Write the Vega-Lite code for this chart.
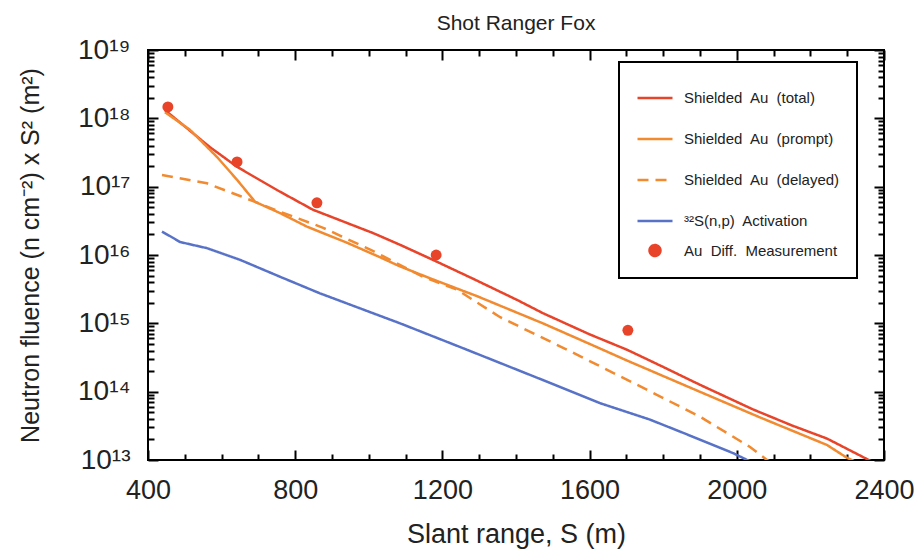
{
  "$schema": "https://vega.github.io/schema/vega-lite/v6.json",
  "width": 736,
  "height": 410,
  "autosize": {"type": "none"},
  "padding": {"left": 148, "top": 50, "right": 33, "bottom": 90},
  "background": "white",
  "title": {"text": "Shot Ranger Fox", "font": "Liberation Sans", "fontSize": 21, "fontWeight": "normal", "color": "#222", "anchor": "middle", "offset": 2},
  "config": {
    "font": "Liberation Sans",
    "view": {"stroke": "black", "strokeWidth": 2},
    "legend": {"strokeWidth": 2},
    "axis": {"domain": false, "grid": false, "tickColor": "black", "tickWidth": 2, "labelColor": "#222", "titleColor": "#222", "labelFont": "Liberation Sans", "titleFont": "Liberation Sans", "titleFontWeight": "normal", "labelOverlap": false, "labelFlush": false}
  },
  "datasets": {
    "curves": [
      {"series": "Shielded Au (total)", "s": 446, "f": 1.32e18},
      {"series": "Shielded Au (total)", "s": 568, "f": 3.8e17},
      {"series": "Shielded Au (total)", "s": 642, "f": 1.95e17},
      {"series": "Shielded Au (total)", "s": 751, "f": 8.9e16},
      {"series": "Shielded Au (total)", "s": 848, "f": 4.6e16},
      {"series": "Shielded Au (total)", "s": 1011, "f": 2.1e16},
      {"series": "Shielded Au (total)", "s": 1085, "f": 1.41e16},
      {"series": "Shielded Au (total)", "s": 1174, "f": 8.5e15},
      {"series": "Shielded Au (total)", "s": 1283, "f": 4.5e15},
      {"series": "Shielded Au (total)", "s": 1403, "f": 2.2e15},
      {"series": "Shielded Au (total)", "s": 1473, "f": 1.41e15},
      {"series": "Shielded Au (total)", "s": 1600, "f": 6.9e14},
      {"series": "Shielded Au (total)", "s": 1702, "f": 4.1e14},
      {"series": "Shielded Au (total)", "s": 1800, "f": 2.3e14},
      {"series": "Shielded Au (total)", "s": 1900, "f": 1.26e14},
      {"series": "Shielded Au (total)", "s": 2044, "f": 5.5e13},
      {"series": "Shielded Au (total)", "s": 2150, "f": 3.2e13},
      {"series": "Shielded Au (total)", "s": 2245, "f": 2.06e13},
      {"series": "Shielded Au (total)", "s": 2348, "f": 1.07e13},
      {"series": "Shielded Au (total)", "s": 2365, "f": 9.6e12},
      {"series": "Shielded Au (prompt)", "s": 446, "f": 1.23e18},
      {"series": "Shielded Au (prompt)", "s": 514, "f": 6.8e17},
      {"series": "Shielded Au (prompt)", "s": 588, "f": 2.7e17},
      {"series": "Shielded Au (prompt)", "s": 642, "f": 1.26e17},
      {"series": "Shielded Au (prompt)", "s": 691, "f": 6.0e16},
      {"series": "Shielded Au (prompt)", "s": 759, "f": 4.1e16},
      {"series": "Shielded Au (prompt)", "s": 832, "f": 2.6e16},
      {"series": "Shielded Au (prompt)", "s": 941, "f": 1.51e16},
      {"series": "Shielded Au (prompt)", "s": 1030, "f": 9.3e15},
      {"series": "Shielded Au (prompt)", "s": 1085, "f": 6.8e15},
      {"series": "Shielded Au (prompt)", "s": 1174, "f": 4.4e15},
      {"series": "Shielded Au (prompt)", "s": 1294, "f": 2.5e15},
      {"series": "Shielded Au (prompt)", "s": 1473, "f": 1.0e15},
      {"series": "Shielded Au (prompt)", "s": 1600, "f": 5.0e14},
      {"series": "Shielded Au (prompt)", "s": 1702, "f": 2.85e14},
      {"series": "Shielded Au (prompt)", "s": 1881, "f": 1.1e14},
      {"series": "Shielded Au (prompt)", "s": 2063, "f": 4.2e13},
      {"series": "Shielded Au (prompt)", "s": 2245, "f": 1.66e13},
      {"series": "Shielded Au (prompt)", "s": 2299, "f": 1.08e13},
      {"series": "Shielded Au (prompt)", "s": 2320, "f": 9.6e12},
      {"series": "Shielded Au (delayed)", "s": 438, "f": 1.48e17},
      {"series": "Shielded Au (delayed)", "s": 560, "f": 1.12e17},
      {"series": "Shielded Au (delayed)", "s": 650, "f": 7.3e16},
      {"series": "Shielded Au (delayed)", "s": 759, "f": 4.3e16},
      {"series": "Shielded Au (delayed)", "s": 876, "f": 2.5e16},
      {"series": "Shielded Au (delayed)", "s": 1011, "f": 1.15e16},
      {"series": "Shielded Au (delayed)", "s": 1147, "f": 4.8e15},
      {"series": "Shielded Au (delayed)", "s": 1240, "f": 3.1e15},
      {"series": "Shielded Au (delayed)", "s": 1357, "f": 1.23e15},
      {"series": "Shielded Au (delayed)", "s": 1539, "f": 4.1e14},
      {"series": "Shielded Au (delayed)", "s": 1718, "f": 1.35e14},
      {"series": "Shielded Au (delayed)", "s": 1900, "f": 4.3e13},
      {"series": "Shielded Au (delayed)", "s": 2036, "f": 1.55e13},
      {"series": "Shielded Au (delayed)", "s": 2082, "f": 1.0e13},
      {"series": "Shielded Au (delayed)", "s": 2095, "f": 9.2e12},
      {"series": "³²S(n,p) Activation", "s": 438, "f": 2.2e16},
      {"series": "³²S(n,p) Activation", "s": 465, "f": 1.82e16},
      {"series": "³²S(n,p) Activation", "s": 487, "f": 1.55e16},
      {"series": "³²S(n,p) Activation", "s": 560, "f": 1.26e16},
      {"series": "³²S(n,p) Activation", "s": 650, "f": 8.5e15},
      {"series": "³²S(n,p) Activation", "s": 759, "f": 4.8e15},
      {"series": "³²S(n,p) Activation", "s": 867, "f": 2.75e15},
      {"series": "³²S(n,p) Activation", "s": 1085, "f": 1.0e15},
      {"series": "³²S(n,p) Activation", "s": 1267, "f": 4.1e14},
      {"series": "³²S(n,p) Activation", "s": 1473, "f": 1.48e14},
      {"series": "³²S(n,p) Activation", "s": 1628, "f": 6.8e13},
      {"series": "³²S(n,p) Activation", "s": 1764, "f": 3.9e13},
      {"series": "³²S(n,p) Activation", "s": 1854, "f": 2.5e13},
      {"series": "³²S(n,p) Activation", "s": 1990, "f": 1.26e13},
      {"series": "³²S(n,p) Activation", "s": 2028, "f": 1.0e13},
      {"series": "³²S(n,p) Activation", "s": 2042, "f": 9.2e12}
    ],
    "meas": [
      {"series": "Au Diff. Measurement", "s": 454, "f": 1.47e18},
      {"series": "Au Diff. Measurement", "s": 642, "f": 2.3e17},
      {"series": "Au Diff. Measurement", "s": 859, "f": 5.8e16},
      {"series": "Au Diff. Measurement", "s": 1183, "f": 1.0e16},
      {"series": "Au Diff. Measurement", "s": 1704, "f": 7.9e14}
    ]
  },
  "layer": [
    {
      "data": {"name": "curves"},
      "mark": {"type": "line", "strokeWidth": 2.5, "clip": true},
      "encoding": {
        "x": {"field": "s", "type": "quantitative", "scale": {"domain": [400, 2400], "nice": false, "zero": false},
          "axis": {"orient": "bottom", "values": [400,500,600,700,800,900,1000,1100,1200,1300,1400,1500,1600,1700,1800,1900,2000,2100,2200,2300,2400],
            "format": "d", "labelExpr": "datum.value % 400 == 0 ? datum.label : ''",
            "tickSize": {"condition": {"test": "datum.value % 400 == 0", "value": -10}, "value": -6},
            "labelFontSize": 27, "labelPadding": 27, "title": "Slant range, S (m)", "titleFontSize": 27, "titlePadding": 14}},
        "y": {"field": "f", "type": "quantitative", "scale": {"type": "log", "domain": [1e13, 1e19], "nice": false},
          "axis": {"orient": "left", "values": [1e13,2e13,3e13,4e13,5e13,6e13,7e13,8e13,9e13,1e14,2e14,3e14,4e14,5e14,6e14,7e14,8e14,9e14,1e15,2e15,3e15,4e15,5e15,6e15,7e15,8e15,9e15,1e16,2e16,3e16,4e16,5e16,6e16,7e16,8e16,9e16,1e17,2e17,3e17,4e17,5e17,6e17,7e17,8e17,9e17,1e18,2e18,3e18,4e18,5e18,6e18,7e18,8e18,9e18,1e19],
            "labelExpr": "datum.value == 1e13 ? '10¹³' : datum.value == 1e14 ? '10¹⁴' : datum.value == 1e15 ? '10¹⁵' : datum.value == 1e16 ? '10¹⁶' : datum.value == 1e17 ? '10¹⁷' : datum.value == 1e18 ? '10¹⁸' : datum.value == 1e19 ? '10¹⁹' : ''",
            "tickSize": {"condition": {"test": "abs(log(datum.value)/LN10 - round(log(datum.value)/LN10)) < 0.001", "value": -10}, "value": -6},
            "labelFontSize": 28, "labelPadding": 28, "title": "Neutron  fluence (n cm⁻²) x S² (m²)", "titleFontSize": 25, "titlePadding": 34}},
        "color": {"field": "series", "type": "nominal",
          "scale": {"domain": ["Shielded Au (total)", "Shielded Au (prompt)", "Shielded Au (delayed)", "³²S(n,p) Activation", "Au Diff. Measurement"],
            "range": ["#E8442A", "#F28A30", "#F28A30", "#5872C8", "#E8442A"]},
          "legend": {"orient": "none", "legendX": 471, "legendY": 12, "title": null, "strokeColor": "black", "padding": 17, "gridAlign": "all",
            "labelFont": "Liberation Sans", "labelFontSize": 15, "labelColor": "#222", "labelOffset": 10, "rowPadding": 11, "symbolStrokeWidth": 2.5,
            "labelExpr": "replace(datum.label, regexp(' ', 'g'), '\u00a0 ')"}},
        "strokeDash": {"field": "series", "type": "nominal",
          "scale": {"domain": ["Shielded Au (total)", "Shielded Au (prompt)", "Shielded Au (delayed)", "³²S(n,p) Activation", "Au Diff. Measurement"],
            "range": [[1, 0], [1, 0], [11, 7], [1, 0], [1, 0]]}}
      }
    },
    {
      "data": {"name": "meas"},
      "mark": {"type": "point", "filled": true, "opacity": 1},
      "encoding": {
        "x": {"field": "s", "type": "quantitative",
          "axis": {"orient": "top", "values": [400,500,600,700,800,900,1000,1100,1200,1300,1400,1500,1600,1700,1800,1900,2000,2100,2200,2300,2400],
            "labels": false, "title": null,
            "tickSize": {"condition": {"test": "datum.value % 400 == 0", "value": -10}, "value": -6}}},
        "y": {"field": "f", "type": "quantitative",
          "axis": {"orient": "right", "values": [1e13,2e13,3e13,4e13,5e13,6e13,7e13,8e13,9e13,1e14,2e14,3e14,4e14,5e14,6e14,7e14,8e14,9e14,1e15,2e15,3e15,4e15,5e15,6e15,7e15,8e15,9e15,1e16,2e16,3e16,4e16,5e16,6e16,7e16,8e16,9e16,1e17,2e17,3e17,4e17,5e17,6e17,7e17,8e17,9e17,1e18,2e18,3e18,4e18,5e18,6e18,7e18,8e18,9e18,1e19],
            "labels": false, "title": null,
            "tickSize": {"condition": {"test": "abs(log(datum.value)/LN10 - round(log(datum.value)/LN10)) < 0.001", "value": -10}, "value": -6}}},
        "color": {"field": "series", "type": "nominal"},
        "shape": {"field": "series", "type": "nominal",
          "scale": {"domain": ["Shielded Au (total)", "Shielded Au (prompt)", "Shielded Au (delayed)", "³²S(n,p) Activation", "Au Diff. Measurement"],
            "range": ["stroke", "stroke", "stroke", "stroke", "circle"]}},
        "size": {"field": "series", "type": "nominal",
          "scale": {"type": "ordinal", "domain": ["Shielded Au (total)", "Shielded Au (prompt)", "Shielded Au (delayed)", "³²S(n,p) Activation", "Au Diff. Measurement"],
            "range": [1225, 1225, 1225, 1225, 120]}}
      }
    }
  ],
  "resolve": {"axis": {"x": "independent", "y": "independent"}}
}
